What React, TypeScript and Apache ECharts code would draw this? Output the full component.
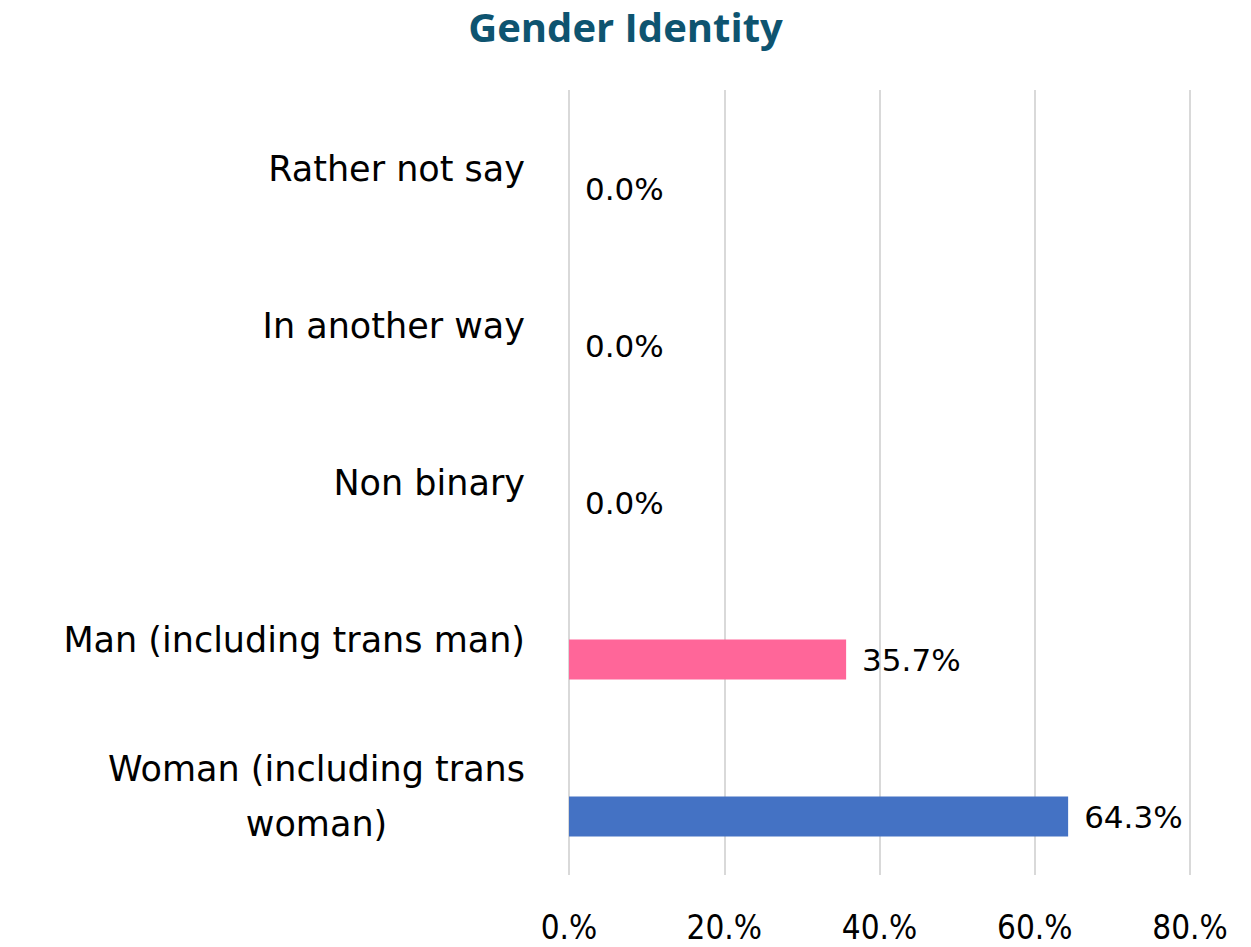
import React, { useEffect, useRef } from "react";
import * as echarts from "echarts";

const categories = [
  "Woman (including trans woman)",
  "Man (including trans man)",
  "Non binary",
  "In another way",
  "Rather not say",
];
const values = [64.3, 35.7, 0.0, 0.0, 0.0];
const barColors = ["#4472C4", "#FF6699", "#4472C4", "#4472C4", "#4472C4"];
const xTicks = [0, 20, 40, 60, 80];
const titleText = "Gender Identity";

const wrapLabel = (s: string) => {
  if (s === "Woman (including trans woman)") {
    return "{c|Woman (including trans}\n{c|woman)}";
  }
  return "{c|" + s + "}";
};

export default function App() {
  const ref = useRef<HTMLDivElement>(null);
  useEffect(() => {
    document.body.style.margin = "0";
    if (!ref.current) return;
    const chart = echarts.init(ref.current, null, { renderer: "svg" });
    const labelFont = "'DejaVu Sans', 'Noto Sans', sans-serif";
    chart.setOption({
      animation: false,
      backgroundColor: "#ffffff",
      title: {
        text: titleText,
        left: "center",
        top: 6,
        padding: 0,
        textStyle: {
          fontFamily: "'Open Sans', sans-serif",
          fontWeight: "bold",
          fontSize: 40,
          lineHeight: 40,
          color: "#0E5470",
        },
      },
      grid: { left: 569, right: 61, top: 90, bottom: 72, containLabel: false },
      xAxis: {
        type: "value",
        min: 0,
        max: 80,
        interval: 20,
        axisLine: { show: false },
        axisTick: { show: false },
        splitLine: { show: true, lineStyle: { color: "#D9D9D9", width: 2 } },
        axisLabel: {
          margin: 37,
          fontFamily: "'Liberation Sans Narrow', 'DejaVu Sans Condensed', 'Noto Sans', sans-serif",
          fontSize: 33,
          lineHeight: 30,
          color: "#000000",
          formatter: (v: number) => (xTicks.includes(v) ? v + ".%" : ""),
        },
      },
      yAxis: {
        type: "category",
        data: categories,
        axisLine: { show: false },
        axisTick: { show: false },
        splitLine: { show: false },
        axisLabel: {
          margin: 44,
          formatter: (s: string) => wrapLabel(s),
          rich: {
            c: {
              fontFamily: labelFont,
              fontSize: 35,
              lineHeight: 55,
              color: "#000000",
              align: "center",
            },
          },
        },
      },
      series: [
        {
          type: "bar",
          name: "spacer",
          data: categories.map(() => "-"),
          barWidth: 40,
          barGap: "0%",
          silent: true,
        },
        {
          type: "bar",
          name: "Gender",
          data: values.map((v, i) => ({ value: v, itemStyle: { color: barColors[i] } })),
          barWidth: 40,
          barGap: "0%",
          label: {
            show: true,
            position: "right",
            distance: 16,
            fontFamily: labelFont,
            fontSize: 31,
            color: "#000000",
            formatter: (p: any) => Number(p.value).toFixed(1) + "%",
          },
        },
      ],
    });
    return () => chart.dispose();
  }, []);
  return <div ref={ref} style={{ width: 1251, height: 947 }} />;
}
